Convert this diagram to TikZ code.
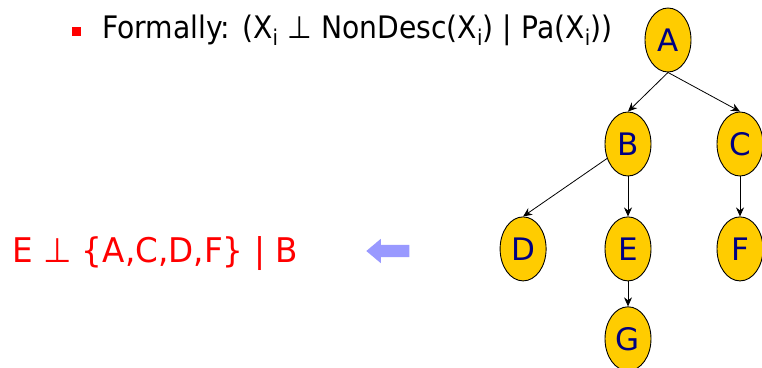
\documentclass[tikz,border=0pt]{standalone}
\usepackage{fontspec}
\setmainfont{DejaVu Sans}
\newfontfamily\narrowfont[FakeStretch=0.91]{DejaVu Sans}
\newfontfamily\redfont[FakeStretch=0.96]{DejaVu Sans}
\usetikzlibrary{positioning, arrows.meta, shapes.geometric, shapes.arrows}
\definecolor{vgold}{RGB}{255,204,0}
\definecolor{vnavy}{RGB}{0,0,128}
\definecolor{pblue}{RGB}{153,153,255}
\newcommand{\isub}{\textsubscript{i}}

\begin{document}
\begin{tikzpicture}[
  x=1pt, y=-1pt,
  vnode/.style={ellipse, draw=black, fill=vgold, line width=0.9pt, minimum width=46pt,
                minimum height=64pt, inner sep=0pt, text=vnavy,
                font=\fontsize{31}{31}\selectfont},
  edge/.style={-{Stealth[length=9pt, width=8pt]}, black, line width=0.8pt},
]
\useasboundingbox (0,0) rectangle (762,367);

\node[fill=red, minimum size=9pt, inner sep=0pt] (bul) at (76.5,31.5) {};
\node[anchor=base west, inner sep=0pt, font=\narrowfont\fontsize{31}{31}\selectfont] (formal) at (102,38)
  {Formally: (X\isub{} ⊥ NonDesc(X\isub) | Pa(X\isub))};

\node[anchor=base west, inner sep=0pt, text=red, font=\redfont\fontsize{34}{34}\selectfont] (indep) at (12,262)
  {E ⊥ \{A,C,D,F\} | B};
\node[single arrow, fill=pblue, shape border rotate=180, minimum height=43pt,
      minimum width=24pt, inner sep=6pt, single arrow head extend=6pt,
      single arrow tip angle=80] (point) at (391.5,251) {};

% the network
\node[vnode] (A) at (668,40) {A};
\node[vnode] (B) at (628,144) {B};
\node[vnode] (C) at (740,144) {C};
\node[vnode, below=40pt of B] (E) {E};
\node[vnode, below=40pt of C] (F) {F};
\node[vnode, left=58pt of E] (D) {D};
\node[vnode, below=25pt of E] (G) {G};

\draw[edge] (A.south) -- (B.north);
\draw[edge] (A.south) -- (C.north);
\draw[edge] (B) -- (D.north);
\draw[edge] (B) -- (E);
\draw[edge] (C) -- (F);
\draw[edge] (E) -- (G);
\end{tikzpicture}
\end{document}
